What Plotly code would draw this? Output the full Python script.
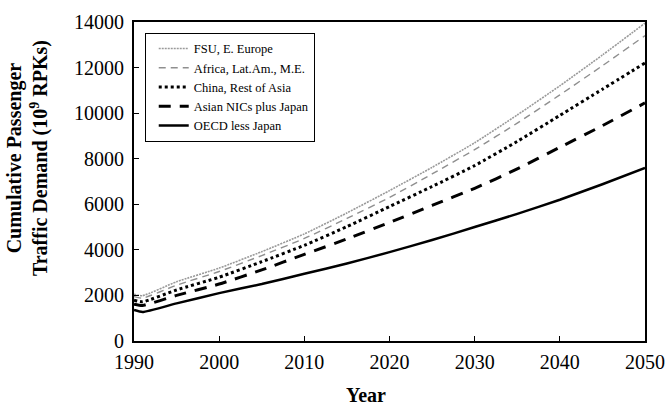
import plotly.graph_objects as go

years = [1990, 1991, 1995, 2000, 2005, 2010, 2015, 2020, 2025, 2030, 2035, 2040, 2045, 2050]
fsu = [2050, 1990, 2600, 3200, 3920, 4700, 5620, 6600, 7620, 8700, 9920, 11200, 12550, 13950]
africa = [1950, 1880, 2450, 3050, 3750, 4500, 5380, 6300, 7330, 8400, 9560, 10800, 12080, 13400]
china = [1790, 1720, 2240, 2800, 3480, 4200, 5020, 5900, 6780, 7700, 8760, 9900, 11050, 12200]
nics = [1620, 1560, 2000, 2500, 3120, 3800, 4480, 5200, 5950, 6700, 7550, 8500, 9450, 10450]
oecd = [1360, 1270, 1650, 2100, 2500, 2950, 3400, 3900, 4430, 5000, 5580, 6200, 6880, 7600]

x_ticks = [1990, 2000, 2010, 2020, 2030, 2040, 2050]
x_labels = ["1990", "2000", "2010", "2020", "2030", "2040", "2050"]
y_ticks = [0, 2000, 4000, 6000, 8000, 10000, 12000, 14000]
y_labels = ["0", "2000", "4000", "6000", "8000", "10000", "12000", "14000"]

series = [
    ("FSU, E. Europe", fsu, dict(color="#9a9a9a", width=1.6, dash="2px,1px")),
    ("Africa, Lat.Am., M.E.", africa, dict(color="#8f8f8f", width=1.4, dash="7px,5px")),
    ("China, Rest of Asia", china, dict(color="black", width=3, dash="dot")),
    ("Asian NICs plus Japan", nics, dict(color="black", width=3, dash="12px,9px")),
    ("OECD less Japan", oecd, dict(color="black", width=2.5)),
]

fig = go.Figure()
for name, vals, line in series:
    line = dict(line, shape="spline", smoothing=0.5)
    fig.add_trace(go.Scatter(x=years, y=vals, mode="lines", name=name, line=line))

serif = "Liberation Serif, Times New Roman, serif"
fig.update_layout(
    width=670, height=407,
    margin=dict(l=134, r=25, t=22, b=66, autoexpand=False),
    paper_bgcolor="white", plot_bgcolor="white",
    font=dict(family=serif, color="black", size=20),
    showlegend=True,
    legend=dict(
        x=0.021, y=0.966, xanchor="left", yanchor="top",
        bgcolor="white", bordercolor="black", borderwidth=1,
        font=dict(family=serif, size=12.5, color="black"),
        tracegroupgap=0, itemwidth=30, indentation=8,
    ),
    xaxis=dict(
        range=[1990, 2050], tickvals=x_ticks, ticktext=x_labels,
        ticks="inside", ticklen=5, automargin=False,
        tickcolor="black", showline=True, linecolor="black", linewidth=2,
        mirror=True, showgrid=False, zeroline=False, ticklabelstandoff=2,
        tickfont=dict(size=20),
    ),
    yaxis=dict(
        range=[0, 14000], tickvals=y_ticks, ticktext=y_labels,
        ticks="inside", ticklen=5, automargin=False,
        tickcolor="black", showline=True, linecolor="black", linewidth=2,
        mirror=True, showgrid=False, zeroline=False, ticklabelstandoff=4,
        tickfont=dict(size=20),
    ),
    annotations=[
        dict(text="<b>Cumulative Passenger<br>Traffic Demand (10<sup>9</sup> RPKs)</b>",
             xref="paper", yref="paper", x=-0.207, y=0.574, textangle=-90,
             showarrow=False, font=dict(family=serif, size=20),
             xanchor="center", yanchor="middle"),
        dict(text="<b>Year</b>", xref="paper", yref="paper",
             x=(366 - 134) / 511, y=-(395 - 341) / 319, showarrow=False,
             font=dict(family=serif, size=20), xanchor="center", yanchor="middle"),
    ],
)

fig.write_html("out.html", config={"displayModeBar": False},
               post_script="document.body.style.margin='0';document.body.style.padding='0';")
